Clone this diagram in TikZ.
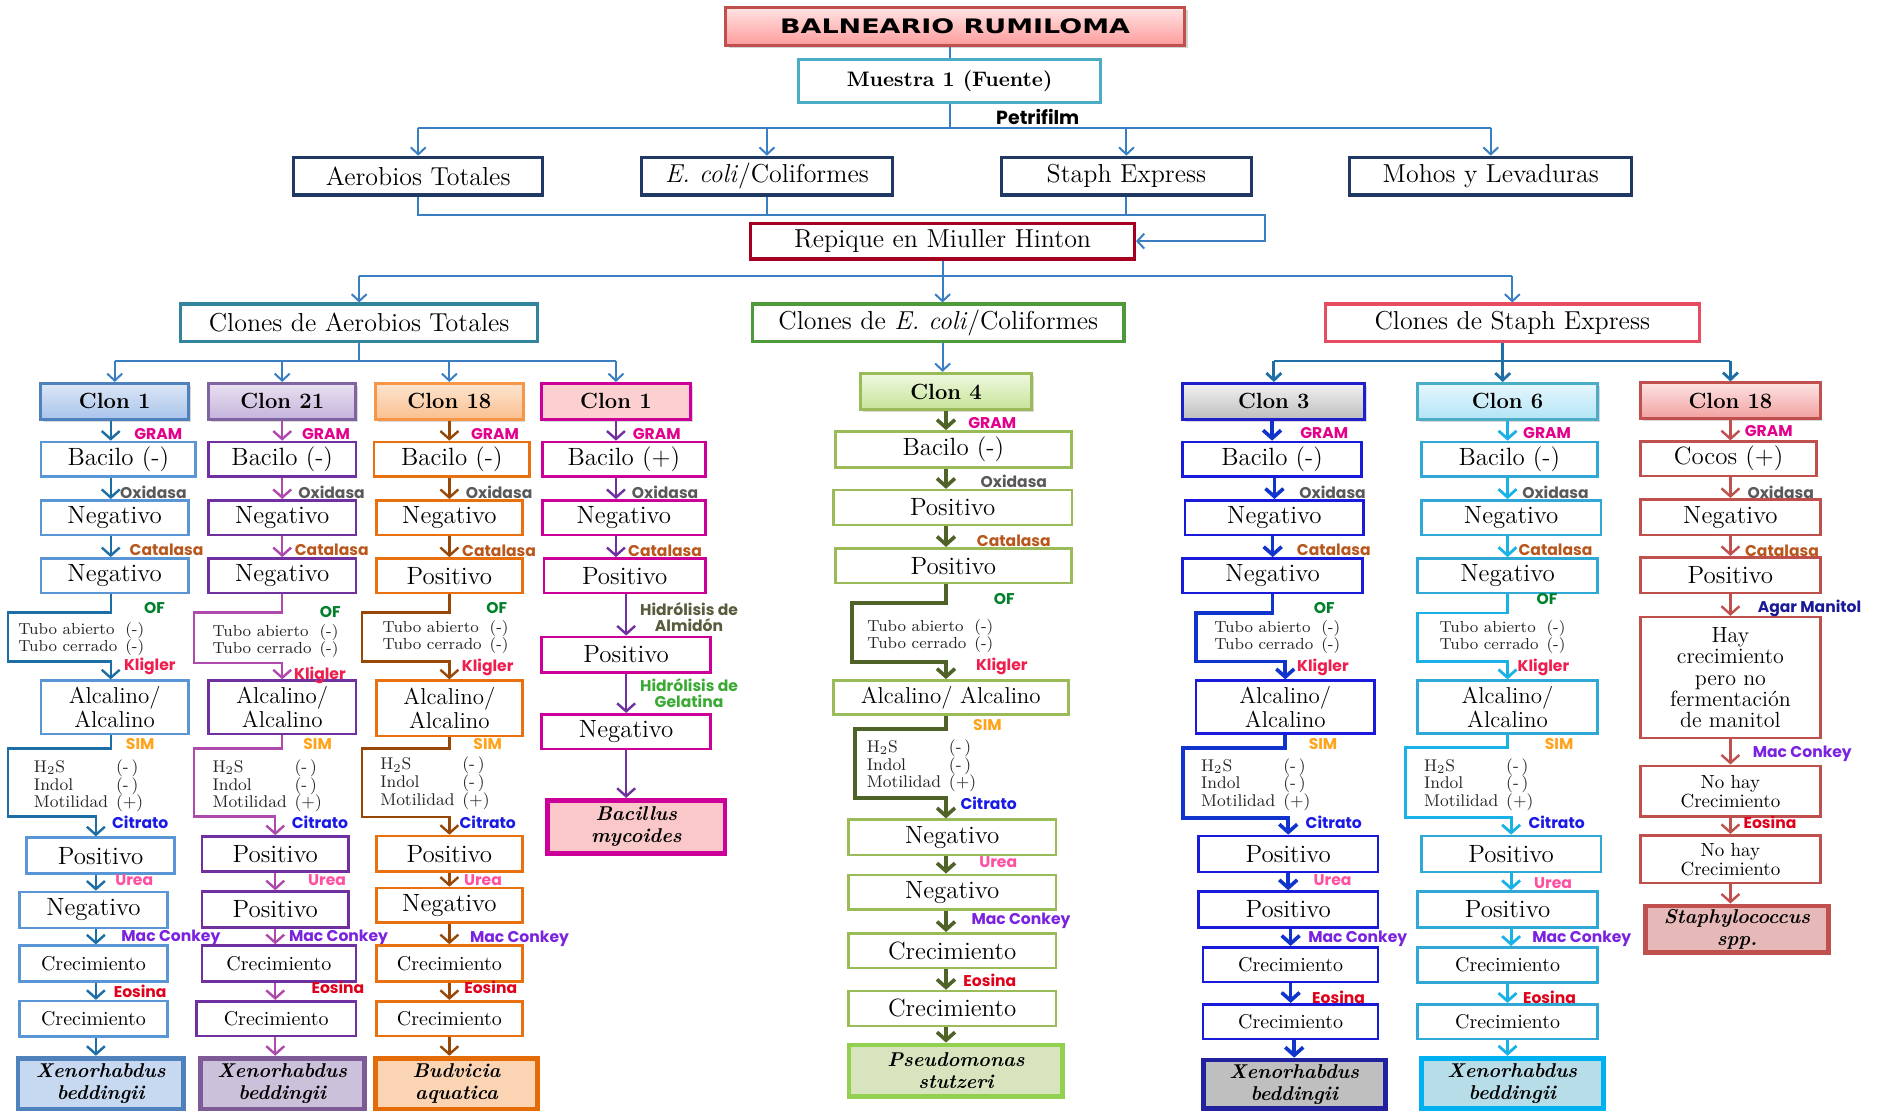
\documentclass[tikz,border=0pt]{standalone}
\usepackage{fontspec}
\usepackage{tikz}
\usetikzlibrary{arrows.meta}
\usetikzlibrary{shadows}
\newfontfamily\labfont{Poppins}
\newfontfamily\titlefont{DejaVu Sans}[FakeStretch=1.35]

\definecolor{topl}{HTML}{3A7FC4}
\definecolor{stl}{HTML}{1F6EA6}
\definecolor{navy}{HTML}{1F3864}
\definecolor{mueB}{HTML}{4BACC6}
\definecolor{repB}{HTML}{A50021}
\definecolor{cAerB}{HTML}{31849B}
\definecolor{cEcoB}{HTML}{4E9A3A}
\definecolor{cStaB}{HTML}{E84C61}
\definecolor{ttlB}{HTML}{C0504D}
\definecolor{ttlT}{HTML}{FFE3E3}
\definecolor{ttlD}{HTML}{FF9C9C}
\definecolor{lGram}{HTML}{E3008C}
\definecolor{lOxi}{HTML}{595959}
\definecolor{lCat}{HTML}{B8561B}
\definecolor{lOF}{HTML}{00802B}
\definecolor{lKli}{HTML}{EE1F4F}
\definecolor{lSim}{HTML}{FFA31A}
\definecolor{lCit}{HTML}{1A1AE6}
\definecolor{lUre}{HTML}{FF4FA0}
\definecolor{lMac}{HTML}{7A22E0}
\definecolor{lEos}{HTML}{E0001B}
\definecolor{lAlm}{HTML}{5A5A3C}
\definecolor{lGel}{HTML}{3BAA35}
\definecolor{lAga}{HTML}{1A1A99}
\definecolor{c1x}{HTML}{5A96D6}\definecolor{c1a}{HTML}{1C6EA4}\definecolor{c1h}{HTML}{4F81BD}
\definecolor{c1t}{HTML}{DCE6F5}\definecolor{c1d}{HTML}{A9C4EB}\definecolor{c1f}{HTML}{4F81BD}\definecolor{c1g}{HTML}{C6D9F1}
\definecolor{c2x}{HTML}{7030A0}\definecolor{c2a}{HTML}{AE4AAE}\definecolor{c2h}{HTML}{8064A2}
\definecolor{c2t}{HTML}{E8E0F0}\definecolor{c2d}{HTML}{C5B3DC}\definecolor{c2f}{HTML}{7E5A96}\definecolor{c2g}{HTML}{CCC1DA}
\definecolor{c3x}{HTML}{E8700E}\definecolor{c3a}{HTML}{974806}\definecolor{c3h}{HTML}{F79646}
\definecolor{c3t}{HTML}{FDE5D0}\definecolor{c3d}{HTML}{FABF8F}\definecolor{c3f}{HTML}{E36C09}\definecolor{c3g}{HTML}{FBD4B4}
\definecolor{c4x}{HTML}{CC0099}\definecolor{c4a}{HTML}{7030A0}\definecolor{c4h}{HTML}{CC0099}
\definecolor{c4t}{HTML}{FCCFD0}\definecolor{c4d}{HTML}{FCCFD0}\definecolor{c4f}{HTML}{CC0099}\definecolor{c4g}{HTML}{FAC8C8}
\definecolor{c5x}{HTML}{9BBB59}\definecolor{c5a}{HTML}{4F6228}\definecolor{c5h}{HTML}{9BBB59}
\definecolor{c5t}{HTML}{F0F8E0}\definecolor{c5d}{HTML}{C6E398}\definecolor{c5f}{HTML}{92D050}\definecolor{c5g}{HTML}{D7E4BD}
\definecolor{c6x}{HTML}{1A1ADB}\definecolor{c6a}{HTML}{1034CC}\definecolor{c6h}{HTML}{1F1FCC}
\definecolor{c6t}{HTML}{F2F2F2}\definecolor{c6d}{HTML}{BDBDBD}\definecolor{c6f}{HTML}{22229E}\definecolor{c6g}{HTML}{BFBFBF}
\definecolor{c7x}{HTML}{2FA8D5}\definecolor{c7a}{HTML}{19B2E6}\definecolor{c7h}{HTML}{4BACC6}
\definecolor{c7t}{HTML}{E6F7FD}\definecolor{c7d}{HTML}{B3E4F6}\definecolor{c7f}{HTML}{00B0F0}\definecolor{c7g}{HTML}{B7DDE8}
\definecolor{c8x}{HTML}{C0504D}\definecolor{c8a}{HTML}{C0504D}\definecolor{c8h}{HTML}{C0504D}
\definecolor{c8t}{HTML}{FDE3E3}\definecolor{c8d}{HTML}{F2A0A0}\definecolor{c8f}{HTML}{C0504D}\definecolor{c8g}{HTML}{E6B9B8}

\tikzset{
  ln/.style={draw=#1, line width=1pt},
  arr/.style={draw=#1, line width=1.2pt, -{Straight Barb[length=4pt,width=9pt]}},
  bw/.style={minimum width=#1*0.6pt},
  bh/.style={minimum height=#1*0.6pt},
  box/.style={draw=#1, line width=1.3pt, fill=white, text=black, inner sep=1pt, align=center, minimum height=17.4pt, font=\fontsize{12.5}{14}\selectfont},
  sm/.style={font=\fontsize{10}{11}\selectfont},
  hd/.style={draw=#1, line width=1.6pt, fill=white, text=black, inner sep=1pt, minimum height=18.9pt, font=\fontsize{13}{15}\selectfont},
  clon/.style n args={3}{draw=#1, top color=#2, bottom color=#3, line width=1.5pt, text=black, inner sep=1pt, minimum height=18pt, font=\bfseries\fontsize{11}{13}\selectfont, drop shadow={opacity=0.3, shadow xshift=1.2pt, shadow yshift=-1.2pt}},
  fin/.style 2 args={draw=#1, fill=#2, line width=2.4pt, text=black, align=center, inner sep=1pt, font=\bfseries\itshape\fontsize{10}{11}\selectfont, drop shadow={opacity=0.3, shadow xshift=1.2pt, shadow yshift=-1.2pt}},
  lab/.style={text=#1, inner sep=0pt, align=center, font=\labfont\bfseries\fontsize{7.8}{8}\selectfont},
  tubo/.style={anchor=west, inner sep=0pt, text=black!85, font=\fontsize{8}{8.4}\selectfont},
  sim/.style={anchor=west, inner sep=0pt, text=black!85, font=\fontsize{8.5}{8.2}\selectfont},
}

\begin{document}
\begin{tikzpicture}[x=0.6pt, y=-0.6pt, >={Straight Barb[length=3.5pt,width=7.5pt]}]
\path[fill=white, use as bounding box] (0,0) rectangle (1568,927);

\node[draw=ttlB, top color=ttlT, bottom color=ttlD, line width=1.6pt, inner sep=1pt, bw=383, bh=31.5, font=\titlefont\bfseries\fontsize{10}{12}\selectfont, drop shadow={opacity=0.35, shadow xshift=1.5pt, shadow yshift=-1.5pt}] (title) at (797,22) {BALNEARIO RUMILOMA};
\node[hd=mueB, bw=252, bh=35.5, font=\bfseries\fontsize{10.5}{12}\selectfont] (mue) at (792.4,67.7) {Muestra 1 (Fuente)};
\node[font=\labfont\bfseries\fontsize{9.5}{11}\selectfont, inner sep=0pt] (pet) at (866,98) {Petrifilm};
\node[hd=navy, bw=208] (aer) at (349,147) {Aerobios Totales};
\node[hd=navy, bw=209] (eco) at (640,147) {\textit{E. coli}/Coliformes};
\node[hd=navy, bw=208.5] (sta) at (940,147) {Staph Express};
\node[hd=navy, bw=235.5] (moh) at (1244,147) {Mohos y Levaduras};
\node[hd=repB, bw=320, bh=29.8] (rep) at (786.6,201.2) {Repique en Miuller Hinton};
\node[hd=cAerB, bw=298] (cAer) at (299.7,269.5) {Clones de Aerobios Totales};
\node[hd=cEcoB, bw=310] (cEco) at (783,269.5) {Clones de \textit{E. coli}/Coliformes};
\node[hd=cStaB, bw=312] (cSta) at (1262,269.5) {Clones de Staph Express};

\coordinate (pf) at (792.4,106.6);
\coordinate (rj) at (1056,179.4);
\coordinate (rc) at (786.6,230.3);
\coordinate (ka) at (299.7,301.3);
\coordinate (ks) at (1254,301.3);

\node[clon={c1h}{c1t}{c1d}, bw=123, bh=30] (k1) at (95.7,335) {Clon 1};
\node[clon={c2h}{c2t}{c2d}, bw=123, bh=30] (k2) at (235.5,335) {Clon 21};
\node[clon={c3h}{c3t}{c3d}, bw=123, bh=30] (k3) at (375,335) {Clon 18};
\node[clon={c4h}{c4t}{c4d}, bw=124, bh=30] (k4) at (514,335) {Clon 1};
\node[clon={c5h}{c5t}{c5d}, bw=143, bh=30.5] (k5) at (789.4,326.8) {Clon 4};
\node[clon={c6h}{c6t}{c6d}, bw=152, bh=30] (k6) at (1063,335) {Clon 3};
\node[clon={c7h}{c7t}{c7d}, bw=150, bh=30] (k7) at (1258,335) {Clon 6};
\node[clon={c8h}{c8t}{c8d}, bw=149.5, bh=29.5] (k8) at (1444,334.3) {Clon 18};

\draw[ln=topl] (mue.north |- title.south) -- (mue.north);
\draw[ln=topl] (mue.south) -- (pf);
\draw[ln=topl] (pf -| aer.north) -- (pf -| moh.north);
\draw[ln=topl, ->] (pf -| aer.north) -- (aer.north);
\draw[ln=topl, ->] (pf -| eco.north) -- (eco.north);
\draw[ln=topl, ->] (pf -| sta.north) -- (sta.north);
\draw[ln=topl, ->] (pf -| moh.north) -- (moh.north);
\draw[ln=topl, ->] (aer.south) |- (rj) |- (rep.east);
\draw[ln=topl] (eco.south) -- (eco.south |- rj);
\draw[ln=topl] (sta.south) -- (sta.south |- rj);
\draw[ln=topl] (rep.south) -- (rc);
\draw[ln=topl] (rc -| cAer.north) -- (rc -| cSta.north);
\draw[ln=topl, ->] (rc -| cAer.north) -- (cAer.north);
\draw[ln=topl, ->] (rc) -- (rc |- cEco.north);
\draw[ln=topl, ->] (rc -| cSta.north) -- (cSta.north);
\draw[ln=topl] (cAer.south) -- (ka);
\draw[ln=topl] (ka -| k1.north) -- (ka -| k4.north);
\draw[ln=topl, ->] (ka -| k1.north) -- (k1.north);
\draw[ln=topl, ->] (ka -| k2.north) -- (k2.north);
\draw[ln=topl, ->] (ka -| k3.north) -- (k3.north);
\draw[ln=topl, ->] (ka -| k4.north) -- (k4.north);
\draw[ln=topl, ->] (cEco.south -| rc) -- (k5.north -| rc);
\draw[ln=stl, line width=1.4pt] (cSta.south -| ks) -- (ks);
\draw[ln=stl, line width=1.4pt] (ks -| k6.north) -- (ks -| k8.north);
\draw[ln=stl, line width=1.4pt, ->] (ks -| k6.north) -- (k6.north);
\draw[ln=stl, line width=1.4pt, ->] (ks) -- (ks |- k7.north);
\draw[ln=stl, line width=1.4pt, ->] (ks -| k8.north) -- (k8.north);

% Clon 1 (Aerobios)
\node[box=c1x, bw=129] (a1) at (98.7,383.3) {Bacilo (-)};
\node[box=c1x, bw=123] (a2) at (95.7,432) {Negativo};
\node[box=c1x, bw=123] (a3) at (95.7,480.5) {Negativo};
\node[box=c1x, bw=123, bh=44.6, font=\fontsize{11.5}{11}\selectfont] (a4) at (95.7,590.3) {Alcalino/\\Alcalino};
\node[box=c1x, bw=123.5, bh=30] (a5) at (84,714) {Positivo};
\node[box=c1x, bw=123.5, bh=30] (a6) at (78,759.3) {Negativo};
\node[box=c1x, bw=123.5, bh=30, sm] (a7) at (78,804.2) {Crecimiento};
\node[box=c1x, bw=123.5, bh=29.6, sm] (a8) at (78,850.2) {Crecimiento};
\node[fin={c1f}{c1g}, bw=138, bh=42.6] (a9) at (84,904.3) {Xenorhabdus\\beddingii};
\node[tubo] (at) at (15,534) {\begin{tabular}{@{}l@{\hspace{4pt}}l@{}}Tubo abierto & (-)\\Tubo cerrado & (-)\end{tabular}};
\node[sim] (as) at (28,656) {\begin{tabular}{@{}l@{\hspace{4pt}}l@{}}H$_2$S & (-\,)\\Indol & (-\,)\\Motilidad & (+)\end{tabular}};
\coordinate (xa) at (92.4,0);
\coordinate (xb) at (80,0);
\coordinate (ao1) at (6.5,511);
\coordinate (ao2) at (6.5,552);
\coordinate (as1) at (6.5,624.5);
\coordinate (as2) at (6.5,681.5);
\draw[arr=c1a] (k1.south -| xa) -- (a1.north -| xa);
\draw[arr=c1a] (a1.south -| xa) -- (a2.north -| xa);
\draw[arr=c1a] (a2.south -| xa) -- (a3.north -| xa);
\draw[arr=c1a] (a3.south -| xa) |- (ao1) -- (ao2) -| (a4.north -| xa);
\draw[arr=c1a] (a4.south -| xa) |- (as1) -- (as2) -| (a5.north -| xb);
\draw[arr=c1a] (a5.south -| xb) -- (a6.north -| xb);
\draw[arr=c1a] (a6.south -| xb) -- (a7.north -| xb);
\draw[arr=c1a] (a7.south -| xb) -- (a8.north -| xb);
\draw[arr=c1a] (a8.south -| xb) -- (a9.north -| xb);
\node[lab=lGram] (aGr) at (132,362) {GRAM};
\node[lab=lOxi] (aOx) at (128,410.5) {Oxidasa};
\node[lab=lCat] (aCa) at (139,459) {Catalasa};
\node[lab=lOF] (aOF) at (129,507.5) {OF};
\node[lab=lKli] (aKl) at (125,556.5) {Kligler};
\node[lab=lSim] (aSI) at (117,621) {SIM};
\node[lab=lCit] (aCi) at (117,686) {Citrato};
\node[lab=lUre] (aUr) at (112,734) {Urea};
\node[lab=lMac] (aMC) at (142.6,782.5) {Mac Conkey};
\node[lab=lEos] (aEo) at (117,827.6) {Eosina};

% Clon 21
\node[box=c2x, bw=123] (b1) at (235.5,383.3) {Bacilo (-)};
\node[box=c2x, bw=123] (b2) at (235.5,432) {Negativo};
\node[box=c2x, bw=123] (b3) at (235.5,480.5) {Negativo};
\node[box=c2x, bw=123, bh=44.6, font=\fontsize{11.5}{11}\selectfont] (b4) at (235.5,590.3) {Alcalino/\\Alcalino};
\node[box=c2x, bw=122.5, bh=29] (b5) at (229.7,712.5) {Positivo};
\node[box=c2x, bw=122.5, bh=30] (b6) at (229.7,759) {Positivo};
\node[box=c2x, bw=128.5, bh=30, sm] (b7) at (232.7,804) {Crecimiento};
\node[box=c2x, bw=133, bh=29, sm] (b8) at (230.5,850) {Crecimiento};
\node[fin={c2f}{c2g}, bw=137, bh=42.6] (b9) at (235.5,904.3) {Xenorhabdus\\beddingii};
\node[tubo] (bt) at (177,535) {\begin{tabular}{@{}l@{\hspace{4pt}}l@{}}Tubo abierto & (-)\\Tubo cerrado & (-)\end{tabular}};
\node[sim] (bs) at (177,656) {\begin{tabular}{@{}l@{\hspace{4pt}}l@{}}H$_2$S & (-\,)\\Indol & (-\,)\\Motilidad & (+)\end{tabular}};
\coordinate (bo1) at (162,511);
\coordinate (bo2) at (162,553);
\coordinate (bs1) at (162,624.5);
\coordinate (bs2) at (162,681.5);
\draw[arr=c2a] (b1.north |- k2.south) -- (b1.north);
\draw[arr=c2a] (b2.north |- b1.south) -- (b2.north);
\draw[arr=c2a] (b3.north |- b2.south) -- (b3.north);
\draw[arr=c2a] (b3.south) |- (bo1) -- (bo2) -| (b4.north);
\draw[arr=c2a] (b4.south) |- (bs1) -- (bs2) -| (b5.north);
\draw[arr=c2a] (b6.north |- b5.south) -- (b6.north);
\draw[arr=c2a] (b6.south) -- (b6.south |- b7.north);
\draw[arr=c2a] (b6.south |- b7.south) -- (b6.south |- b8.north);
\draw[arr=c2a] (b6.south |- b8.south) -- (b6.south |- b9.north);
\node[lab=lGram] (bGr) at (272,362) {GRAM};
\node[lab=lOxi] (bOx) at (276.7,410.5) {Oxidasa};
\node[lab=lCat] (bCa) at (276.8,459) {Catalasa};
\node[lab=lOF] (bOF) at (275.6,511) {OF};
\node[lab=lKli] (bKl) at (267,564) {Kligler};
\node[lab=lSim] (bSI) at (265,621) {SIM};
\node[lab=lCit] (bCi) at (267,686) {Citrato};
\node[lab=lUre] (bUr) at (273,734.4) {Urea};
\node[lab=lMac] (bMC) at (282.5,782.5) {Mac Conkey};
\node[lab=lEos] (bEo) at (282,824) {Eosina};

% Clon 18 (Aerobios)
\node[box=c3x, bw=130] (c1) at (377,383.3) {Bacilo (-)};
\node[box=c3x, bw=122] (c2) at (375,432) {Negativo};
\node[box=c3x, bw=122] (c3) at (375,480.5) {Positivo};
\node[box=c3x, bw=122, bh=46, font=\fontsize{11.5}{11}\selectfont] (c4) at (375,591) {Alcalino/\\Alcalino};
\node[box=c3x, bw=122, bh=29.7] (c5) at (375,712.5) {Positivo};
\node[box=c3x, bw=122, bh=29] (c6) at (375,755.5) {Negativo};
\node[box=c3x, bw=122, bh=30, sm] (c7) at (375,804) {Crecimiento};
\node[box=c3x, bw=122, bh=29, sm] (c8) at (375,850) {Crecimiento};
\node[fin={c3f}{c3g}, bw=135.6, bh=42.6] (c9) at (381,904.3) {Budvicia\\aquatica};
\node[tubo] (ct) at (319,532) {\begin{tabular}{@{}l@{\hspace{4pt}}l@{}}Tubo abierto & (-)\\Tubo cerrado & (-)\end{tabular}};
\node[sim] (cs) at (317,654) {\begin{tabular}{@{}l@{\hspace{4pt}}l@{}}H$_2$S & (-\,)\\Indol & (-\,)\\Motilidad & (+)\end{tabular}};
\coordinate (co1) at (302,511);
\coordinate (co2) at (302,552);
\coordinate (cs1) at (302,624.5);
\coordinate (cs2) at (302,681.6);
\draw[arr=c3a] (c2.north |- k3.south) -- (c2.north |- c1.north);
\draw[arr=c3a] (c2.north |- c1.south) -- (c2.north);
\draw[arr=c3a] (c3.north |- c2.south) -- (c3.north);
\draw[arr=c3a] (c3.south) |- (co1) -- (co2) -| (c4.north);
\draw[arr=c3a] (c4.south) |- (cs1) -- (cs2) -| (c5.north);
\draw[arr=c3a] (c6.north |- c5.south) -- (c6.north);
\draw[arr=c3a] (c7.north |- c6.south) -- (c7.north);
\draw[arr=c3a] (c8.north |- c7.south) -- (c8.north);
\draw[arr=c3a] (c8.south) -- (c8.south |- c9.north);
\node[lab=lGram] (cGr) at (413,362) {GRAM};
\node[lab=lOxi] (cOx) at (416.5,411) {Oxidasa};
\node[lab=lCat] (cCa) at (416.5,459.5) {Catalasa};
\node[lab=lOF] (cOF) at (414.5,507.6) {OF};
\node[lab=lKli] (cKl) at (407,556.6) {Kligler};
\node[lab=lSim] (cSI) at (407,621) {SIM};
\node[lab=lCit] (cCi) at (407,686) {Citrato};
\node[lab=lUre] (cUr) at (403,734) {Urea};
\node[lab=lMac] (cMC) at (433.5,783) {Mac Conkey};
\node[lab=lEos] (cEo) at (409.5,824) {Eosina};

% Clon 1 (Bacillus)
\node[box=c4x, bw=136] (d1) at (520.6,383.3) {Bacilo (+)};
\node[box=c4x, bw=136] (d2) at (520.6,432) {Negativo};
\node[box=c4x, bw=134.6] (d3) at (521.3,480.5) {Positivo};
\node[box=c4x, bw=141, bh=29.6] (d4) at (522.5,546.2) {Positivo};
\node[box=c4x, bw=141, bh=29] (d5) at (522.5,610.5) {Negativo};
\node[fin={c4f}{c4g}, bw=148, bh=44.4] (d6) at (531,690) {Bacillus\\mycoides};
\draw[arr=c4a] (k4.south) -- (k4.south |- d1.north);
\draw[arr=c4a] (k4.south |- d1.south) -- (k4.south |- d2.north);
\draw[arr=c4a] (k4.south |- d2.south) -- (k4.south |- d3.north);
\draw[arr=c4a] (d4.north |- d3.south) -- (d4.north);
\draw[arr=c4a] (d5.north |- d4.south) -- (d5.north);
\draw[arr=c4a] (d5.south) -- (d5.south |- d6.north);
\node[lab=lGram] (dGr) at (548,362) {GRAM};
\node[lab=lOxi] (dOx) at (555,410.6) {Oxidasa};
\node[lab=lCat] (dCa) at (555,459.5) {Catalasa};
\node[lab=lAlm] (dAl) at (575,515) {Hidrólisis de\\Almidón};
\node[lab=lGel] (dGe) at (575,578.6) {Hidrólisis de\\Gelatina};

% Clon 4 (E. coli)
\node[box=c5x, bw=197, bh=30] (e1) at (795.5,375) {Bacilo (-)};
\node[box=c5x, bw=199] (e2) at (795,423.5) {Positivo};
\node[box=c5x, bw=197] (e3) at (795.5,472) {Positivo};
\node[box=c5x, bw=196, bh=28.5, font=\fontsize{11.5}{12}\selectfont] (e4) at (793.4,582) {Alcalino/ Alcalino};
\node[box=c5x, bw=173, bh=29.6] (e5) at (794.6,698.8) {Negativo};
\node[box=c5x, bw=173] (e6) at (794.6,744.5) {Negativo};
\node[box=c5x, bw=173] (e7) at (794.6,793.3) {Crecimiento};
\node[box=c5x, bw=173] (e8) at (794.6,841.5) {Crecimiento};
\node[fin={c5f}{c5g}, bw=178.5, bh=43] (e9) at (797.7,893.5) {Pseudomonas\\stutzeri};
\node[tubo] (et) at (723.5,531.5) {\begin{tabular}{@{}l@{\hspace{4pt}}l@{}}Tubo abierto & (-)\\Tubo cerrado & (-)\end{tabular}};
\node[sim] (es) at (723,639.5) {\begin{tabular}{@{}l@{\hspace{4pt}}l@{}}H$_2$S & (-\,)\\Indol & (-\,)\\Motilidad & (+)\end{tabular}};
\coordinate (eo1) at (711,503);
\coordinate (eo2) at (711,552.5);
\coordinate (es1) at (713.5,608.5);
\coordinate (es2) at (713.5,666);
\draw[arr=c5a, line width=1.8pt] (k5.south) -- (e1.north -| k5);
\draw[arr=c5a, line width=1.8pt] (e1.south -| k5) -- (e2.north -| k5);
\draw[arr=c5a, line width=1.8pt] (e2.south -| k5) -- (e3.north -| k5);
\draw[arr=c5a, line width=1.8pt] (e3.south -| k5) |- (eo1) -- (eo2) -| (e4.north -| k5);
\draw[arr=c5a, line width=1.8pt] (e4.south -| k5) |- (es1) -- (es2) -| (e5.north -| k5);
\draw[arr=c5a, line width=1.8pt] (e5.south -| k5) -- (e6.north -| k5);
\draw[arr=c5a, line width=1.8pt] (e6.south -| k5) -- (e7.north -| k5);
\draw[arr=c5a, line width=1.8pt] (e7.south -| k5) -- (e8.north -| k5);
\draw[arr=c5a, line width=1.8pt] (e8.south -| k5) -- (e9.north -| k5);
\node[lab=lGram] (eGr) at (828,353) {GRAM};
\node[lab=lOxi] (eOx) at (846,402) {Oxidasa};
\node[lab=lCat] (eCa) at (846,451) {Catalasa};
\node[lab=lOF] (eOF) at (838,500) {OF};
\node[lab=lKli] (eKl) at (836,556.5) {Kligler};
\node[lab=lSim] (eSI) at (824,605) {SIM};
\node[lab=lCit] (eCi) at (825,670) {Citrato};
\node[lab=lUre] (eUr) at (833,719) {Urea};
\node[lab=lMac] (eMC) at (852,768) {Mac Conkey};
\node[lab=lEos] (eEo) at (826,818) {Eosina};

% Clon 3 (Staph)
\node[box=c6x, bw=149] (f1) at (1061.5,383.3) {Bacilo (-)};
\node[box=c6x, bw=149] (f2) at (1063.5,432) {Negativo};
\node[box=c6x, bw=150] (f3) at (1062,480.5) {Negativo};
\node[box=c6x, bw=149, bh=44, font=\fontsize{11.5}{11}\selectfont] (f4) at (1072.5,590) {Alcalino/\\Alcalino};
\node[box=c6x, bw=150, bh=30] (f5) at (1075,712.6) {Positivo};
\node[box=c6x, bw=150, bh=30] (f6) at (1075,759) {Positivo};
\node[box=c6x, bw=146, sm] (f7) at (1077,805) {Crecimiento};
\node[box=c6x, bw=146, sm] (f8) at (1077,852.5) {Crecimiento};
\node[fin={c6f}{c6g}, bw=152, bh=40.4] (f9) at (1080,904.8) {Xenorhabdus\\beddingii};
\node[tubo] (ft) at (1013,532) {\begin{tabular}{@{}l@{\hspace{4pt}}l@{}}Tubo abierto & (-)\\Tubo cerrado & (-)\end{tabular}};
\node[sim] (fs) at (1002,655) {\begin{tabular}{@{}l@{\hspace{4pt}}l@{}}H$_2$S & (-\,)\\Indol & (-\,)\\Motilidad & (+)\end{tabular}};
\coordinate (fo1) at (998,511.6);
\coordinate (fo2) at (998,552);
\coordinate (fs1) at (987,624);
\coordinate (fs2) at (987,682.6);
\draw[arr=c6a, line width=1.8pt] (f1.north |- k6.south) -- (f1.north);
\draw[arr=c6a, line width=1.8pt] (f2.north |- f1.south) -- (f2.north);
\draw[arr=c6a, line width=1.8pt] (f3.north |- f2.south) -- (f3.north);
\draw[arr=c6a, line width=1.8pt] (f3.south) |- (fo1) -- (fo2) -| (f4.north);
\draw[arr=c6a, line width=1.8pt] (f4.south) |- (fs1) -- (fs2) -| (f5.north);
\draw[arr=c6a, line width=1.8pt] (f6.north |- f5.south) -- (f6.north);
\draw[arr=c6a, line width=1.8pt] (f7.north |- f6.south) -- (f7.north);
\draw[arr=c6a, line width=1.8pt] (f8.north |- f7.south) -- (f8.north);
\draw[arr=c6a, line width=1.8pt] (f9.north |- f8.south) -- (f9.north);
\node[lab=lGram] (fGr) at (1105,361.5) {GRAM};
\node[lab=lOxi] (fOx) at (1112,410.6) {Oxidasa};
\node[lab=lCat] (fCa) at (1113,459) {Catalasa};
\node[lab=lOF] (fOF) at (1105,507.6) {OF};
\node[lab=lKli] (fKl) at (1104,556.6) {Kligler};
\node[lab=lSim] (fSI) at (1104,621) {SIM};
\node[lab=lCit] (fCi) at (1113,686) {Citrato};
\node[lab=lUre] (fUr) at (1112,734) {Urea};
\node[lab=lMac] (fMC) at (1133,783) {Mac Conkey};
\node[lab=lEos] (fEo) at (1117,832) {Eosina};

% Clon 6 (Staph)
\node[box=c7x, bw=147] (g1) at (1259.5,383.3) {Bacilo (-)};
\node[box=c7x, bw=150] (g2) at (1261,432) {Negativo};
\node[box=c7x, bw=150] (g3) at (1258,480.5) {Negativo};
\node[box=c7x, bw=150, bh=44, font=\fontsize{11.5}{11}\selectfont] (g4) at (1258,590) {Alcalino/\\Alcalino};
\node[box=c7x, bw=150, bh=30] (g5) at (1261,712.6) {Positivo};
\node[box=c7x, bw=150, bh=30] (g6) at (1258,759) {Positivo};
\node[box=c7x, bw=150, bh=29.5, sm] (g7) at (1258,805.3) {Crecimiento};
\node[box=c7x, bw=150, sm] (g8) at (1258,852.5) {Crecimiento};
\node[fin={c7f}{c7g}, bw=152, bh=42] (g9) at (1262,904) {Xenorhabdus\\beddingii};
\node[tubo] (gt) at (1201,532) {\begin{tabular}{@{}l@{\hspace{4pt}}l@{}}Tubo abierto & (-)\\Tubo cerrado & (-)\end{tabular}};
\node[sim] (gs) at (1188,655) {\begin{tabular}{@{}l@{\hspace{4pt}}l@{}}H$_2$S & (-\,)\\Indol & (-\,)\\Motilidad & (+)\end{tabular}};
\coordinate (go1) at (1183,511.6);
\coordinate (go2) at (1183,552);
\coordinate (gs1) at (1173,624);
\coordinate (gs2) at (1173,682);
\draw[arr=c7a, line width=1.4pt] (k7.south) -- (k7.south |- g1.north);
\draw[arr=c7a, line width=1.4pt] (k7.south |- g1.south) -- (k7.south |- g2.north);
\draw[arr=c7a, line width=1.4pt] (k7.south |- g2.south) -- (k7.south |- g3.north);
\draw[arr=c7a, line width=1.4pt] (g3.south) |- (go1) -- (go2) -| (g4.north);
\draw[arr=c7a, line width=1.4pt] (g4.south) |- (gs1) -- (gs2) -| (g5.north);
\draw[arr=c7a, line width=1.4pt] (g5.south) -- (g5.south |- g6.north);
\draw[arr=c7a, line width=1.4pt] (g5.south |- g6.south) -- (g5.south |- g7.north);
\draw[arr=c7a, line width=1.4pt] (g7.south) -- (g7.south |- g8.north);
\draw[arr=c7a, line width=1.4pt] (g8.south) -- (g8.south |- g9.north);
\node[lab=lGram] (gGr) at (1291,361.5) {GRAM};
\node[lab=lOxi] (gOx) at (1298,410.6) {Oxidasa};
\node[lab=lCat] (gCa) at (1298,459) {Catalasa};
\node[lab=lOF] (gOF) at (1291,500) {OF};
\node[lab=lKli] (gKl) at (1288,556.6) {Kligler};
\node[lab=lSim] (gSI) at (1301,621) {SIM};
\node[lab=lCit] (gCi) at (1299,686) {Citrato};
\node[lab=lUre] (gUr) at (1296,737) {Urea};
\node[lab=lMac] (gMC) at (1320,783) {Mac Conkey};
\node[lab=lEos] (gEo) at (1293,832) {Eosina};

% Clon 18 (Staph)
\node[box=c8x, bw=147, bh=28.5] (h1) at (1442.5,382.8) {Cocos (+)};
\node[box=c8x, bw=150, bh=30] (h2) at (1444,431.6) {Negativo};
\node[box=c8x, bw=150, bh=30] (h3) at (1444,480) {Positivo};
\node[box=c8x, bw=150, bh=101, font=\fontsize{11}{10.6}\selectfont] (h4) at (1444,565.5) {Hay\\crecimiento\\pero no\\fermentación\\de manitol};
\node[box=c8x, bw=150, bh=42.5, font=\fontsize{9.5}{9.6}\selectfont] (h5) at (1444,660.3) {No hay\\Crecimiento};
\node[box=c8x, bw=150, bh=40, font=\fontsize{9.5}{9.6}\selectfont] (h6) at (1444,717) {No hay\\Crecimiento};
\node[fin={c8f}{c8g}, bw=153, bh=39] (h7) at (1449.5,775.5) {Staphylococcus\\spp.};
\draw[arr=c8a] (k8.south) -- (k8.south |- h1.north);
\draw[arr=c8a] (k8.south |- h1.south) -- (k8.south |- h2.north);
\draw[arr=c8a] (k8.south |- h2.south) -- (k8.south |- h3.north);
\draw[arr=c8a] (k8.south |- h3.south) -- (k8.south |- h4.north);
\draw[arr=c8a] (k8.south |- h4.south) -- (k8.south |- h5.north);
\draw[arr=c8a] (k8.south |- h5.south) -- (k8.south |- h6.north);
\draw[arr=c8a] (k8.south |- h6.south) -- (k8.south |- h7.north);
\node[lab=lGram] (hGr) at (1476,360) {GRAM};
\node[lab=lOxi] (hOx) at (1486,411) {Oxidasa};
\node[lab=lCat] (hCa) at (1487,459.5) {Catalasa};
\node[lab=lAga] (hAg) at (1510,507.5) {Agar Manitol};
\node[lab=lMac] (hMC) at (1504,629) {Mac Conkey};
\node[lab=lEos] (hEo) at (1477,686.5) {Eosina};
\end{tikzpicture}
\end{document}
